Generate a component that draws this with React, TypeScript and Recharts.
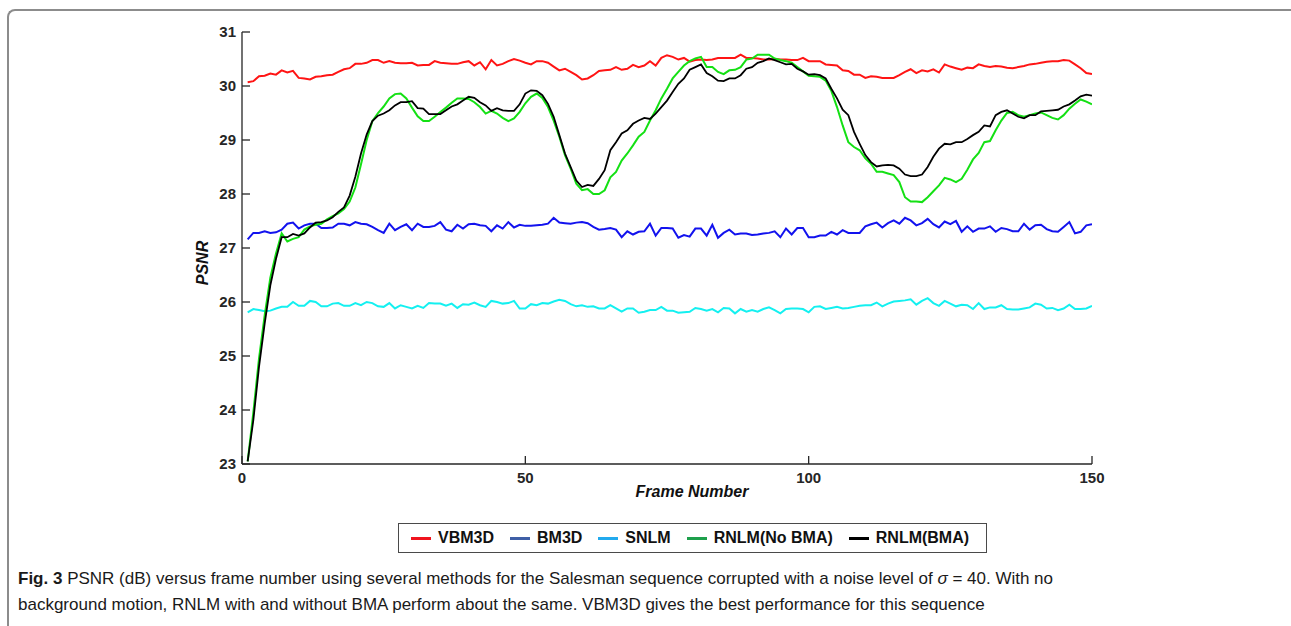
import React from 'react';
import { LineChart, Line, XAxis, YAxis, Label } from 'recharts';

const xTicks = [0, 50, 100, 150];
const yTicks = [23, 24, 25, 26, 27, 28, 29, 30, 31];

const vbm3d = [
  30.07, 30.09, 30.18, 30.19, 30.23, 30.21, 30.29, 30.25, 30.28, 30.15,
  30.14, 30.12, 30.17, 30.18, 30.2, 30.21, 30.26, 30.31, 30.33, 30.41,
  30.41, 30.43, 30.48, 30.48, 30.43, 30.46, 30.43, 30.42, 30.42, 30.43,
  30.38, 30.39, 30.39, 30.46, 30.43, 30.42, 30.41, 30.41, 30.44, 30.46,
  30.38, 30.44, 30.31, 30.48, 30.38, 30.41, 30.46, 30.5, 30.47, 30.43,
  30.4, 30.46, 30.46, 30.43, 30.36, 30.29, 30.32, 30.26, 30.2, 30.12,
  30.14, 30.2, 30.28, 30.29, 30.3, 30.35, 30.3, 30.32, 30.39, 30.35,
  30.38, 30.46, 30.38, 30.52, 30.57, 30.54, 30.49, 30.52, 30.45, 30.48,
  30.49, 30.48, 30.49, 30.52, 30.52, 30.52, 30.52, 30.58, 30.52, 30.52,
  30.51, 30.49, 30.49, 30.5, 30.49, 30.49, 30.48, 30.48, 30.52, 30.46,
  30.46, 30.46, 30.4, 30.39, 30.38, 30.29, 30.28, 30.21, 30.21, 30.15,
  30.18, 30.17, 30.15, 30.15, 30.15, 30.2, 30.26, 30.31, 30.24, 30.29,
  30.27, 30.31, 30.25, 30.4, 30.36, 30.33, 30.3, 30.34, 30.33, 30.4,
  30.37, 30.35, 30.37, 30.36, 30.34, 30.33, 30.35, 30.37, 30.4, 30.41,
  30.43, 30.45, 30.46, 30.46, 30.48, 30.47, 30.4, 30.33, 30.24, 30.22,
];

const bm3d = [
  27.16, 27.28, 27.28, 27.31, 27.28, 27.29, 27.34, 27.45, 27.47, 27.36,
  27.42, 27.45, 27.45, 27.37, 27.37, 27.38, 27.45, 27.45, 27.42, 27.48,
  27.45, 27.44, 27.39, 27.33, 27.28, 27.45, 27.33, 27.39, 27.44, 27.33,
  27.45, 27.39, 27.39, 27.41, 27.48, 27.34, 27.31, 27.43, 27.36, 27.44,
  27.45, 27.42, 27.41, 27.31, 27.42, 27.36, 27.48, 27.38, 27.43, 27.41,
  27.41, 27.42, 27.43, 27.45, 27.56, 27.47, 27.46, 27.45, 27.47, 27.48,
  27.46, 27.39, 27.34, 27.35, 27.37, 27.34, 27.2, 27.31, 27.25, 27.3,
  27.31, 27.45, 27.23, 27.37, 27.37, 27.36, 27.19, 27.24, 27.21, 27.36,
  27.36, 27.23, 27.43, 27.19, 27.28, 27.34, 27.25, 27.27, 27.27, 27.24,
  27.25, 27.27, 27.28, 27.31, 27.2, 27.36, 27.25, 27.37, 27.37, 27.2,
  27.2, 27.23, 27.23, 27.3, 27.25, 27.33, 27.28, 27.28, 27.28, 27.4,
  27.44, 27.47, 27.38, 27.46, 27.51, 27.45, 27.56, 27.51, 27.42, 27.46,
  27.54, 27.44, 27.38, 27.49, 27.44, 27.5, 27.3, 27.4, 27.3, 27.36,
  27.36, 27.4, 27.3, 27.37, 27.35, 27.31, 27.31, 27.45, 27.34, 27.42,
  27.43, 27.35, 27.31, 27.3, 27.39, 27.48, 27.27, 27.3, 27.42, 27.44,
];

const snlm = [
  25.81, 25.87, 25.85, 25.83, 25.84, 25.88, 25.91, 25.91, 26.0, 25.93,
  25.93, 26.02, 26.0, 25.92, 25.92, 25.97, 25.98, 25.93, 25.93, 25.98,
  25.94, 26.0, 25.98, 25.92, 25.91, 25.98, 25.88, 25.94, 25.91, 25.88,
  25.93, 25.89, 25.98, 25.97, 25.97, 25.93, 25.97, 25.89, 25.96, 25.95,
  25.99, 25.94, 25.91, 26.02, 26.0, 25.97, 25.98, 26.02, 25.88, 25.88,
  25.96, 25.94, 25.98, 25.97, 26.01, 26.04, 26.02, 25.96, 25.92, 25.94,
  25.91, 25.92, 25.88, 25.88, 25.94, 25.88, 25.82, 25.88, 25.88, 25.8,
  25.82, 25.85, 25.85, 25.91, 25.84, 25.84, 25.8, 25.81, 25.82, 25.89,
  25.87, 25.84, 25.87, 25.81, 25.89, 25.88, 25.79, 25.87, 25.82, 25.85,
  25.82, 25.87, 25.9, 25.85, 25.79, 25.87, 25.88, 25.88, 25.87, 25.81,
  25.91, 25.92, 25.87, 25.89, 25.91, 25.88, 25.89, 25.91, 25.93, 25.94,
  25.94, 25.99, 25.92, 25.97, 26.01, 26.02, 26.03, 26.05, 25.95, 26.02,
  26.07, 25.98, 25.93, 26.02, 25.97, 25.92, 25.95, 25.94, 25.87, 25.98,
  25.87, 25.9, 25.9, 25.94, 25.87, 25.86, 25.86, 25.88, 25.9, 25.97,
  25.95, 25.88, 25.89, 25.85, 25.88, 25.95, 25.87, 25.87, 25.88, 25.93,
];

const rnlmNoBma = [
  23.05, 23.95, 24.95, 25.75, 26.45, 26.9, 27.27, 27.12, 27.17, 27.2,
  27.34, 27.4, 27.43, 27.45, 27.53, 27.59, 27.64, 27.72, 27.86, 28.12,
  28.55, 29.0, 29.35, 29.5, 29.62, 29.77, 29.85, 29.86, 29.77, 29.6,
  29.44, 29.35, 29.35, 29.43, 29.52, 29.6, 29.69, 29.77, 29.77, 29.76,
  29.7, 29.61, 29.49, 29.54, 29.49, 29.41, 29.35, 29.4, 29.52, 29.68,
  29.8, 29.86, 29.78, 29.61, 29.36, 29.06, 28.72, 28.47, 28.19, 28.07,
  28.09, 28.0, 28.0, 28.07, 28.31, 28.41, 28.62, 28.75, 28.9, 29.06,
  29.15, 29.36, 29.55, 29.77, 29.95, 30.14, 30.26, 30.38, 30.46, 30.51,
  30.54, 30.35, 30.35, 30.26, 30.22, 30.29, 30.3, 30.35, 30.49, 30.51,
  30.58, 30.58, 30.58, 30.51, 30.48, 30.46, 30.43, 30.35, 30.27, 30.19,
  30.18, 30.17, 30.1, 29.91, 29.61, 29.27, 28.96, 28.87, 28.81, 28.66,
  28.56, 28.41, 28.41, 28.38, 28.35, 28.22, 27.94, 27.86, 27.86, 27.85,
  27.94, 28.05, 28.16, 28.3, 28.27, 28.22, 28.28, 28.45, 28.64, 28.76,
  28.96, 28.98, 29.18, 29.36, 29.5, 29.52, 29.46, 29.43, 29.46, 29.49,
  29.51, 29.46, 29.41, 29.38, 29.46, 29.58, 29.67, 29.75, 29.71, 29.66,
];

const rnlmBma = [
  23.05, 23.81, 24.8, 25.6, 26.31, 26.8, 27.2, 27.2, 27.26, 27.23,
  27.27, 27.38, 27.47, 27.48, 27.51, 27.57, 27.67, 27.75, 27.97, 28.32,
  28.75, 29.1, 29.35, 29.45, 29.49, 29.55, 29.64, 29.7, 29.7, 29.72,
  29.59, 29.58, 29.48, 29.48, 29.48, 29.55, 29.62, 29.66, 29.73, 29.8,
  29.78, 29.7, 29.64, 29.54, 29.59, 29.55, 29.54, 29.54, 29.66, 29.86,
  29.92, 29.91, 29.83, 29.67, 29.43, 29.09, 28.75, 28.5, 28.25, 28.13,
  28.17, 28.15, 28.28, 28.44, 28.81, 28.96, 29.12, 29.18, 29.3, 29.36,
  29.41, 29.39, 29.49, 29.61, 29.73, 29.89, 30.04, 30.14, 30.3, 30.35,
  30.4, 30.24, 30.18, 30.1, 30.09, 30.14, 30.14, 30.2, 30.32, 30.35,
  30.43, 30.46, 30.51, 30.48, 30.44, 30.4, 30.41, 30.32, 30.27, 30.21,
  30.22, 30.2, 30.14, 29.95, 29.77, 29.56, 29.46, 29.15, 28.93, 28.72,
  28.59, 28.51, 28.53, 28.54, 28.53, 28.47, 28.36, 28.33, 28.33, 28.36,
  28.5, 28.69, 28.84, 28.93, 28.92, 28.96, 28.96, 29.02, 29.09, 29.15,
  29.27, 29.25, 29.46, 29.52, 29.55, 29.49, 29.43, 29.4, 29.46, 29.46,
  29.53, 29.54, 29.55, 29.56, 29.62, 29.66, 29.73, 29.81, 29.84, 29.82,
];

const frames = vbm3d.map((_, i) => i + 1);

const series = [
  { key: 'VBM3D', color: '#ff1414', legendColor: '#f0141e', width: 2 },
  { key: 'BM3D', color: '#1212ee', legendColor: '#3f5fa6', width: 2 },
  { key: 'SNLM', color: '#14f0f0', legendColor: '#22aaee', width: 2 },
  { key: 'RNLM(No BMA)', color: '#14e014', legendColor: '#1ea04c', width: 2 },
  { key: 'RNLM(BMA)', color: '#000000', legendColor: '#000000', width: 1.8 },
];

const values = [vbm3d, bm3d, snlm, rnlmNoBma, rnlmBma];

const data = frames.map((f, i) => {
  const row: Record<string, number> = { frame: f };
  series.forEach((s, k) => {
    row[s.key] = values[k][i];
  });
  return row;
});

const FONT = '"Liberation Sans", Arial, sans-serif';
const AXIS = '#262626';
const tickStyle = { fill: AXIS, fontSize: 15, fontWeight: 700, fontFamily: FONT };

const XTitle = (props: any) => {
  const vb = props.viewBox || {};
  return (
    <text
      x={vb.x + vb.width / 2 + 25}
      y={vb.y + 33}
      textAnchor="middle"
      fill="#111"
      style={{ fontSize: 16, fontWeight: 700, fontStyle: 'italic', fontFamily: FONT }}
    >
      Frame Number
    </text>
  );
};

const YTitle = (props: any) => {
  const vb = props.viewBox || {};
  const cx = vb.x + vb.width - 40;
  const cy = vb.y + vb.height / 2 + 15;
  return (
    <text
      x={cx}
      y={cy}
      transform={`rotate(-90, ${cx}, ${cy})`}
      textAnchor="middle"
      dominantBaseline="central"
      fill="#111"
      style={{ fontSize: 16, fontWeight: 700, fontStyle: 'italic', fontFamily: FONT }}
    >
      PSNR
    </text>
  );
};

export default function App() {
  return (
    <div
      style={{
        position: 'absolute',
        left: 0,
        top: 0,
        width: 1291,
        height: 626,
        background: '#ffffff',
        overflow: 'hidden',
        fontFamily: FONT,
      }}
    >
      <div
        style={{
          position: 'absolute',
          left: 7,
          top: 9,
          width: 1320,
          height: 700,
          borderLeft: '2px solid #8c8c8c',
          borderTop: '2px solid #8c8c8c',
          borderTopLeftRadius: 8,
          boxSizing: 'border-box',
        }}
      />
      <div style={{ position: 'absolute', left: 0, top: 0 }}>
        <LineChart
          width={1291}
          height={510}
          data={data}
          margin={{ top: 32, right: 199, bottom: 0, left: 0 }}
        >
          <XAxis
            xAxisId="top"
            orientation="top"
            dataKey="frame"
            type="number"
            domain={[0, 150]}
            ticks={xTicks}
            height={0}
            tick={false}
            tickSize={-8}
            stroke={AXIS}
            strokeWidth={1.3}
            allowDataOverflow
          />
          <XAxis
            dataKey="frame"
            type="number"
            domain={[0, 150]}
            ticks={xTicks}
            height={46}
            tickSize={-8}
            tickMargin={16}
            tick={tickStyle}
            stroke={AXIS}
            strokeWidth={1.3}
            allowDataOverflow
          >
            <Label content={<XTitle />} />
          </XAxis>
          <YAxis
            type="number"
            domain={[23, 31]}
            ticks={yTicks}
            width={242}
            tickSize={-8}
            tickMargin={14}
            tick={tickStyle}
            stroke={AXIS}
            strokeWidth={1.3}
            allowDataOverflow
          >
            <Label content={<YTitle />} />
          </YAxis>
          <YAxis
            yAxisId="right"
            orientation="right"
            type="number"
            domain={[23, 31]}
            ticks={yTicks}
            width={0}
            tick={false}
            tickSize={-8}
            stroke={AXIS}
            strokeWidth={1.3}
            allowDataOverflow
          />
          {series.map((s) => (
            <Line
              key={s.key}
              type="linear"
              dataKey={s.key}
              stroke={s.color}
              strokeWidth={s.width}
              dot={false}
              activeDot={false}
              isAnimationActive={false}
            />
          ))}
        </LineChart>
      </div>

      <div
        style={{
          position: 'absolute',
          left: 398,
          top: 523,
          width: 589,
          height: 30,
          border: '1px solid #4a4a4a',
          boxSizing: 'border-box',
          display: 'flex',
          alignItems: 'center',
          paddingLeft: 12,
        }}
      >
        {series.map((s) => (
          <div key={s.key} style={{ display: 'flex', alignItems: 'center', marginRight: 16 }}>
            <div style={{ width: 20, height: 3, background: s.legendColor, marginRight: 7 }} />
            <span style={{ fontSize: 16, fontWeight: 700, color: '#111', fontFamily: FONT }}>{s.key}</span>
          </div>
        ))}
      </div>

      <div
        style={{
          position: 'absolute',
          left: 18,
          top: 566,
          width: 1260,
          fontSize: 17,
          lineHeight: '26px',
          color: '#1a1a1a',
          fontFamily: FONT,
          whiteSpace: 'nowrap',
        }}
      >
        <div>
          <b>Fig. 3</b> PSNR (dB) versus frame number using several methods for the Salesman sequence corrupted with a
          noise level of <i>σ</i> = 40. With no
        </div>
        <div>
          background motion, RNLM with and without BMA perform about the same. VBM3D gives the best performance for this
          sequence
        </div>
      </div>
    </div>
  );
}
